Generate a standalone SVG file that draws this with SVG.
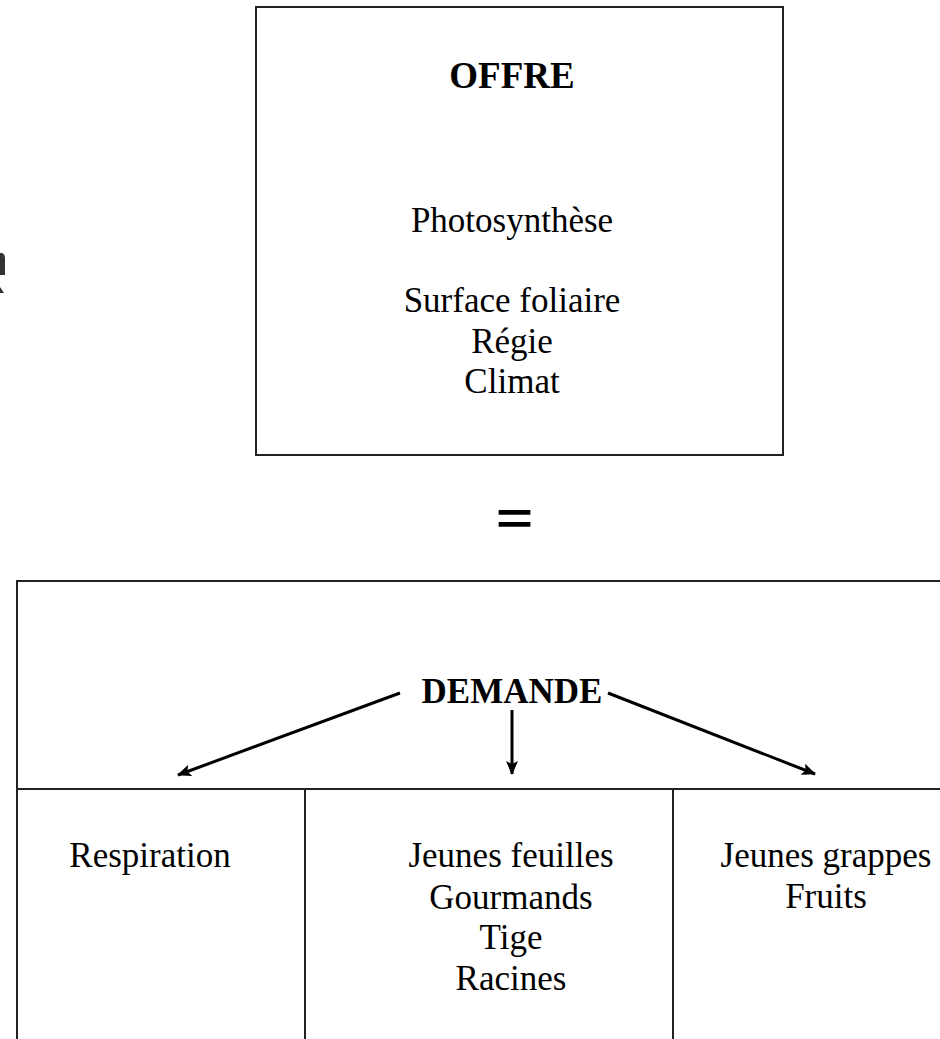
<svg xmlns="http://www.w3.org/2000/svg" width="940" height="1039" viewBox="0 0 940 1039">
<style>
.t{font-family:"Liberation Serif","Times New Roman",serif;font-size:35px;fill:#000;text-anchor:middle}
.b{font-weight:bold}
.box{fill:none;stroke:#222;stroke-width:2}
.ln{stroke:#222;stroke-width:2;fill:none}
.arr{stroke:#000;stroke-width:3;fill:none;marker-end:url(#ah)}
</style>
<defs>
<marker id="ah" markerUnits="userSpaceOnUse" markerWidth="14" markerHeight="12" viewBox="0 0 14 12" refX="13" refY="6" orient="auto">
<path d="M0,0 L14,6 L0,12 L3,6 Z" fill="#000"/>
</marker>
</defs>
<rect width="940" height="1039" fill="#fff"/>
<g id="fragment">
<path d="M0,253 L2,253 Q5,254 5,258 L5,275 L0,275 Z M0,287 L4,293 L0,293 Z" fill="#333"/>
</g>
<g id="offre">
<rect class="box" x="256" y="7" width="527" height="448"/>
<text class="t b" x="512" y="88" style="font-size:37px">OFFRE</text>
<text class="t" x="512" y="232">Photosynthèse</text>
<text class="t" x="512" y="312">Surface foliaire</text>
<text class="t" x="512" y="353">Régie</text>
<text class="t" x="512" y="393">Climat</text>
</g>
<g id="egal">
<text x="514.5" y="534" style="font-family:'Liberation Sans',Arial,sans-serif;font-weight:bold;font-size:44px;text-anchor:middle" textLength="37" lengthAdjust="spacingAndGlyphs">=</text>
</g>
<g id="demande">
<path class="ln" d="M17,1039 L17,581 L940,581 M17,789 L940,789"/>
<text class="t b" x="512" y="703">DEMANDE</text>
</g>
<g id="respiration">
<text class="t" x="150" y="867">Respiration</text>
</g>
<g id="croissance">
<path class="ln" d="M305,789 L305,1039"/>
<text class="t" x="511" y="867">Jeunes feuilles</text>
<text class="t" x="511" y="909">Gourmands</text>
<text class="t" x="511" y="949">Tige</text>
<text class="t" x="511" y="990">Racines</text>
</g>
<g id="fruits">
<path class="ln" d="M673,789 L673,1039"/>
<text class="t" x="826" y="867">Jeunes grappes</text>
<text class="t" x="826" y="908">Fruits</text>
</g>
<g id="connectors">
<line class="arr" x1="400" y1="693" x2="178" y2="775"/>
<line class="arr" x1="512" y1="710" x2="512" y2="774"/>
<line class="arr" x1="608" y1="693" x2="815" y2="774"/>
</g>
</svg>
